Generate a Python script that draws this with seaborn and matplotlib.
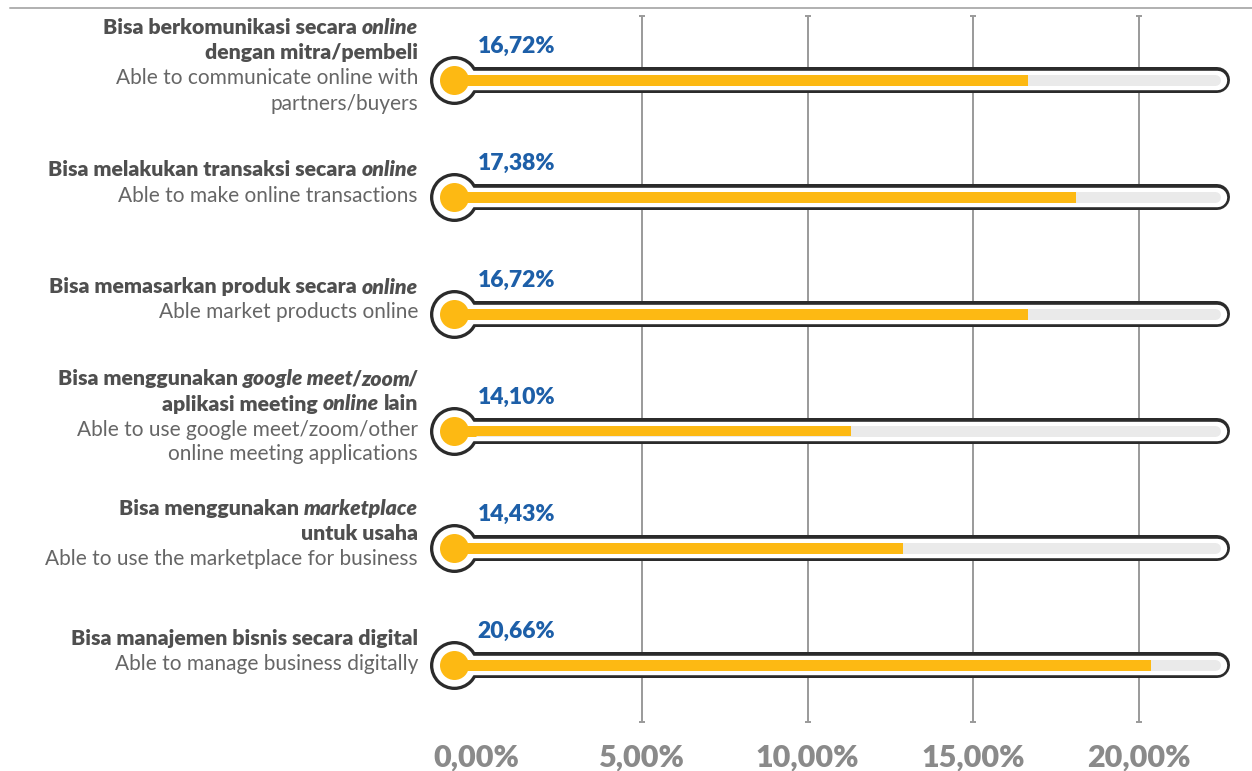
import numpy as np
import pandas as pd
import matplotlib
matplotlib.use("Agg")
import matplotlib.pyplot as plt
from matplotlib.lines import Line2D
import seaborn as sns

# ---------------- data ----------------
categories_id = [
    "Bisa berkomunikasi secara *online*\ndengan mitra/pembeli",
    "Bisa melakukan transaksi secara *online*",
    "Bisa memasarkan produk secara *online*",
    "Bisa menggunakan *google meet*/*zoom*/\naplikasi meeting *online* lain",
    "Bisa menggunakan *marketplace*\nuntuk usaha",
    "Bisa manajemen bisnis secara digital",
]
categories_en = [
    "Able to communicate online with\npartners/buyers",
    "Able to make online transactions",
    "Able market products online",
    "Able to use google meet/zoom/other\nonline meeting applications",
    "Able to use the marketplace for business",
    "Able to manage business digitally",
]
reported_pct = [16.72, 17.38, 16.72, 14.10, 14.43, 20.66]   # printed labels
bar_pct = [16.66, 18.10, 16.66, 11.32, 12.88, 20.37]        # bar lengths as drawn
tick_values = [0, 5, 10, 15, 20]
tick_labels = ["0,00%", "5,00%", "10,00%", "15,00%", "20,00%"]

# ---------------- style ----------------
YELLOW = "#FDB913"
DARK = "#2b2b2b"
TRACK = "#EAEAEA"
GRID = "#9a9a9a"
BLUE = "#1d5fa8"
BOLD_GRAY = "#4f4f4f"
REG_GRAY = "#666666"
TICK_GRAY = "#8a8a8a"

sns.set_theme(style="white")
plt.rcParams["font.family"] = ["Lato", "DejaVu Sans"]

W, H = 1252, 771
DPI = 100
fig = plt.figure(figsize=(W / DPI, H / DPI), dpi=DPI)
ax = fig.add_axes([420 / W, 41 / H, 820 / W, 720 / H])

PX_PER_PCT = 663 / 20.0
X0_PX = 476
ROW_PX = 117.0


def px2x(px):
    return (px - X0_PX) / PX_PER_PCT


def P(px):  # pixels -> points
    return px * 72.0 / DPI


n = len(categories_en)
df = pd.DataFrame({"cat": [f"r{i}" for i in range(n)], "bar": bar_pct})

# yellow bars (0 -> value)
sns.barplot(data=df, x="bar", y="cat", orient="h", width=11 / ROW_PX,
            color=YELLOW, saturation=1, errorbar=None, linewidth=0,
            ax=ax, zorder=5)

bulb_x = px2x(453.5)
end_dark = px2x(1217)
end_track = px2x(1214.5)

for i in range(n):
    # outline (dark) : bulb + tube
    ax.plot([bulb_x], [i], marker="o", ms=P(49), color=DARK, mew=0, zorder=2)
    ax.plot([bulb_x, end_dark], [i, i], lw=P(26), color=DARK,
            solid_capstyle="round", zorder=2)
    # white interior
    ax.plot([bulb_x], [i], marker="o", ms=P(42.4), color="white", mew=0, zorder=3)
    ax.plot([bulb_x, end_dark], [i, i], lw=P(19.4), color="white",
            solid_capstyle="round", zorder=3)
    # gray track
    ax.plot([bulb_x, end_track], [i, i], lw=P(11), color=TRACK,
            solid_capstyle="round", zorder=4)
    # connector from bulb to 0
    ax.plot([bulb_x, 0], [i, i], lw=P(11), color=YELLOW,
            solid_capstyle="butt", zorder=5)
    # yellow bulb
    ax.plot([bulb_x], [i], marker="o", ms=P(29), color=YELLOW, mew=0, zorder=6)
    # value label
    ax.text(0.05, i - 27 / ROW_PX, f"{reported_pct[i]:.2f}%".replace(".", ","),
            ha="left", va="baseline", fontsize=16.5, fontweight="heavy",
            color=BLUE, zorder=7)

# gridlines with caps
xt = ax.get_xaxis_transform()
g_top, g_bot = 1 - 6 / 720, 1 - 712 / 720
ax.vlines(tick_values[1:], g_bot, g_top, transform=xt, color=GRID, lw=1.4, zorder=1)
for yy in (g_bot, g_top):
    ax.plot(tick_values[1:], [yy] * 4, transform=xt, ls="none", marker="_",
            ms=5, mew=1.4, color=GRID, zorder=1)

ax.set_xlim(px2x(420), px2x(1240))
ax.set_ylim((730 - 80) / ROW_PX, -(80 - 10) / ROW_PX)
ax.set_xticks(tick_values, tick_labels)
ax.set_yticks([])
ax.set_xlabel("")
ax.set_ylabel("")
ax.tick_params(axis="x", length=0, pad=10, labelsize=22, labelcolor=TICK_GRAY)
for lab in ax.get_xticklabels():
    lab.set_fontweight("heavy")
for s in ax.spines.values():
    s.set_visible(False)
ax.grid(False)

# top rule
fig.add_artist(Line2D([10 / W, 1.0], [1 - 8 / H] * 2, transform=fig.transFigure,
                      color="#b0b0b0", lw=1.4))

# ---------------- category labels (rich text, right aligned) ----------------
fig.canvas.draw()
renderer = fig.canvas.get_renderer()
FS = 15
FS_BOLD = 15.3


def space_width(weight, style, size):
    a = fig.text(0, 0, "x x", fontsize=size, fontweight=weight, fontstyle=style)
    b = fig.text(0, 0, "xx", fontsize=size, fontweight=weight, fontstyle=style)
    w = a.get_window_extent(renderer).width - b.get_window_extent(renderer).width
    a.remove(); b.remove()
    return w


def draw_rich(line, x_right, y_base, weight, color, size):
    segs = line.split("*")
    x = x_right
    prev_starts_tight = False
    for k in reversed(range(len(segs))):
        s = segs[k]
        if not s:
            continue
        style = "italic" if k % 2 else "normal"
        sw = space_width(weight, style, size)
        stripped = s.rstrip(" ")
        trail = len(s) - len(stripped)
        x -= trail * sw
        if style == "italic" and trail == 0 and prev_starts_tight:
            x += 2.5  # italic overhang compensation
        core = stripped.lstrip(" ")
        lead = len(stripped) - len(core)
        t = fig.text(x, y_base, core, transform=None, ha="right", va="baseline",
                     fontsize=size, fontweight=weight, fontstyle=style, color=color)
        bb = t.get_window_extent(renderer)
        x = bb.x0 - lead * sw
        prev_starts_tight = lead == 0


for i in range(n):
    bold_lines = categories_id[i].split("\n")
    reg_lines = categories_en[i].split("\n")
    lines = [(l, "heavy", BOLD_GRAY, FS_BOLD) for l in bold_lines] + \
            [(l, "normal", REG_GRAY, FS) for l in reg_lines]
    m = len(lines)
    bar_disp_y = ax.transData.transform((0, i))[1]
    for k, (txt, wt, col, sz) in enumerate(lines):
        center = bar_disp_y + 15 - (k - (m - 1) / 2) * 25
        draw_rich(txt, 418, center - 7, wt, col, sz)

fig.savefig("out.png", dpi=DPI)
